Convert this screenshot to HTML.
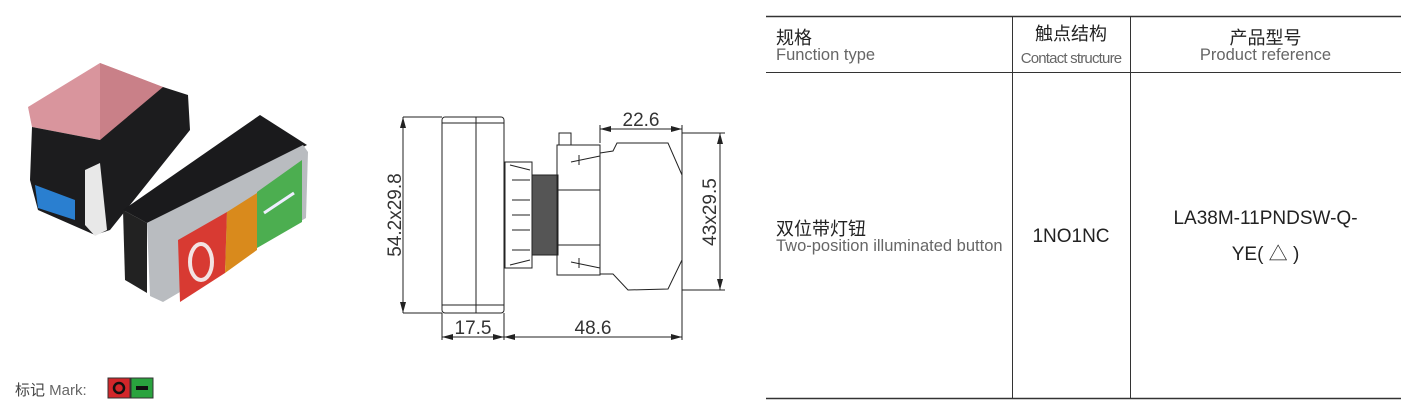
<!DOCTYPE html>
<html><head><meta charset="utf-8"><style>
body{margin:0;width:1402px;height:419px;background:#fff;position:relative;overflow:hidden;font-family:"Liberation Sans","Noto Sans CJK SC",sans-serif}
.t{position:absolute;white-space:nowrap}
.cn{font-size:18px;color:#222}
.en{font-size:16.5px;color:#666}
</style></head><body>
<svg width="1402" height="419" style="position:absolute;left:0;top:0">
<polygon points="28,107 100,63 163,87 100,140 32,127" fill="#d9959d"/>
<polygon points="100,63 163,87 160,95 100,140" fill="#c98088"/>
<polygon points="32,127 100,140 163,87 188,95 190,130 150,180 110,230 95,235 38,210 30,180" fill="#1c1c1e"/>
<polygon points="35,185 75,200 75,220 38,208" fill="#2a7fd0"/>
<polygon points="85,170 100,163 107,230 95,236 85,225" fill="#e8e8e8"/>
<polygon points="123,210 260,115 307,145 147,223" fill="#1a1a1c"/>
<polygon points="123,210 147,223 147,293 125,280" fill="#222"/>
<polygon points="147,223 303,145 308,152 306,218 163,302 150,296" fill="#b9bcc0"/>
<polygon points="178,240 227,212 225,273 180,302" fill="#d83a32"/>
<polygon points="227,212 257,193 257,250 225,273" fill="#d98a1c"/>
<polygon points="257,192 302,160 302,222 257,248" fill="#4cae50"/>
<ellipse cx="201" cy="262" rx="11" ry="18" fill="none" stroke="#f3e3e3" stroke-width="4"/>
<line x1="264" y1="213" x2="294" y2="193" stroke="#eef" stroke-width="3"/>
<g stroke="#222" stroke-width="1" fill="none">
<rect x="442" y="117" width="62" height="196" rx="3"/>
<line x1="476" y1="117" x2="476" y2="313"/>
<line x1="442" y1="123" x2="504" y2="123"/>
<line x1="442" y1="305" x2="504" y2="305"/>
<rect x="505" y="162" width="27" height="106"/>
<path d="M510,165 L530,170 M510,265 L530,260 M512,180 h18 M512,200 h18 M512,215 h18 M512,230 h18 M512,250 h18"/>
<rect x="532" y="175" width="26" height="80" fill="#555"/>
<rect x="557" y="145" width="43" height="130"/>
<rect x="559" y="133" width="12" height="12"/>
<rect x="558" y="190" width="42" height="55"/>
<polygon points="600,153 613,151 617,143 668,143 682,175 682,260 668,289 628,290 613,274 600,274"/>
<path d="M571,162 L600,156 M571,262 L600,268 M579,155 v10 M579,258 v10"/>
<line x1="403" y1="117" x2="403" y2="313"/>
<line x1="403" y1="117" x2="442" y2="117"/><line x1="403" y1="313" x2="442" y2="313"/>
<line x1="720" y1="133" x2="720" y2="290"/>
<line x1="682" y1="133" x2="725" y2="133"/><line x1="682" y1="290" x2="725" y2="290"/>
<line x1="600" y1="129" x2="682" y2="129"/>
<line x1="600" y1="125" x2="600" y2="143"/>
<line x1="682" y1="125" x2="682" y2="340"/>
<line x1="442" y1="313" x2="442" y2="340"/><line x1="504" y1="313" x2="504" y2="340"/>
<line x1="442" y1="337" x2="682" y2="337"/>
</g>
<g fill="#222">
<polygon points="403,117 400,128 406,128"/><polygon points="403,313 400,302 406,302"/>
<polygon points="720,133 717,144 723,144"/><polygon points="720,290 717,279 723,279"/>
<polygon points="600,129 611,126 611,132"/><polygon points="682,129 671,126 671,132"/>
<polygon points="442,337 453,334 453,340"/><polygon points="504,337 493,334 493,340"/>
<polygon points="504,337 515,334 515,340"/><polygon points="682,337 671,334 671,340"/>
</g>
<g font-family="Liberation Sans" font-size="19" fill="#333" text-anchor="middle">
<text x="641" y="126">22.6</text>
<text x="473" y="334">17.5</text>
<text x="593" y="334">48.6</text>
<text transform="translate(401,215) rotate(-90)">54.2x29.8</text>
<text transform="translate(716,212) rotate(-90)">43x29.5</text>
</g>
<g stroke="#333">
<line x1="766" y1="16.5" x2="1401" y2="16.5" stroke-width="1.5"/>
<line x1="766" y1="72.5" x2="1401" y2="72.5"/>
<line x1="766" y1="398.5" x2="1401" y2="398.5" stroke-width="1.5"/>
<line x1="1012.5" y1="16" x2="1012.5" y2="398"/>
<line x1="1130.5" y1="16" x2="1130.5" y2="398"/>
</g>
<rect x="108" y="378" width="22" height="20" fill="#d2262a" stroke="#333"/>
<rect x="131" y="378" width="22" height="20" fill="#29a33e" stroke="#333"/>
<ellipse cx="119" cy="388" rx="5" ry="5" fill="none" stroke="#111" stroke-width="2.5"/>
<rect x="136" y="386" width="12" height="4" fill="#111"/>
</svg>
<div class="t" style="left:15px;top:379px;font-size:15px;color:#444">标记 <span style="color:#666">Mark:</span></div>
<div class="t cn" style="left:776px;top:24px">规格</div>
<div class="t en" style="left:776px;top:46px">Function type</div>
<div class="t cn" style="left:1012px;width:118px;text-align:center;top:20px">触点结构</div>
<div class="t en" style="left:1012px;width:118px;text-align:center;top:50px;font-size:15px;letter-spacing:-0.8px">Contact structure</div>
<div class="t cn" style="left:1130px;width:271px;text-align:center;top:24px">产品型号</div>
<div class="t en" style="left:1130px;width:271px;text-align:center;top:46px">Product reference</div>
<div class="t cn" style="left:776px;top:215px">双位带灯钮</div>
<div class="t en" style="left:776px;top:237px">Two-position illuminated button</div>
<div class="t cn" style="left:1012px;width:118px;text-align:center;top:226px;font-size:19px">1NO1NC</div>
<div class="t cn" style="left:1130px;width:271px;text-align:center;top:208px;font-size:19px">LA38M-11PNDSW-Q-</div>
<div class="t cn" style="left:1130px;width:271px;text-align:center;top:239px;font-size:19px">YE( △ )</div>
</body></html>
